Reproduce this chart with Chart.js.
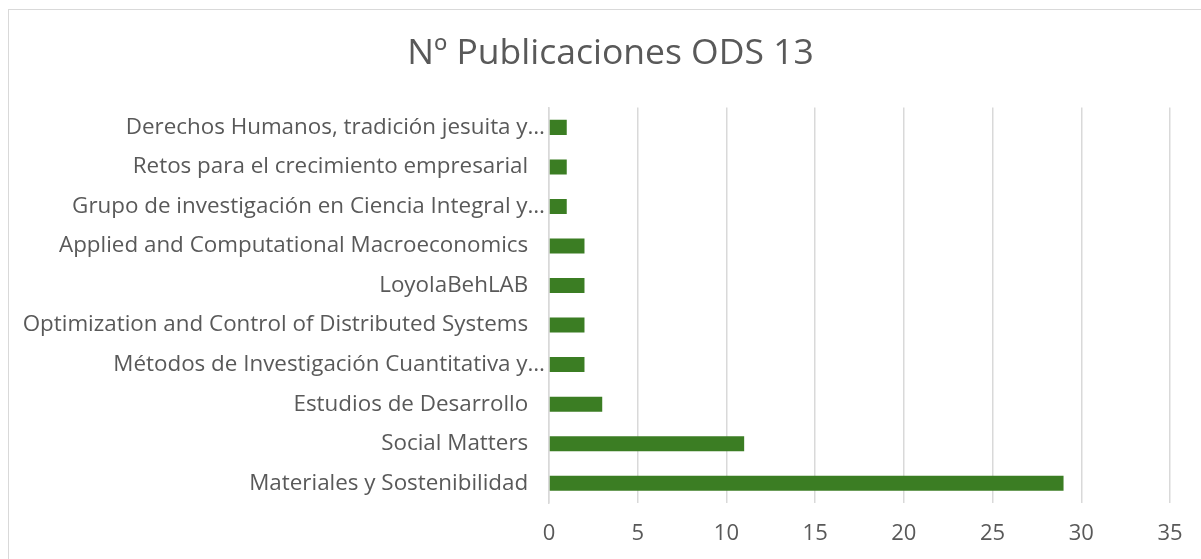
<!DOCTYPE html>
<html>
<head>
<meta charset="utf-8">
<script src="https://cdn.jsdelivr.net/npm/chart.js@4.4.1/dist/chart.umd.min.js"></script>
<style>
  html, body { margin: 0; padding: 0; background: #ffffff; }
  #wrap { position: relative; width: 1201px; height: 559px; overflow: hidden; background: #ffffff; }
  #frame { position: absolute; left: 8px; top: 9px; width: 1230px; height: 600px; border: 1px solid #d9d9d9; box-sizing: border-box; }
  #c { position: absolute; left: 0; top: 0; }
</style>
</head>
<body>
<div id="wrap">
  <div id="frame"></div>
  <canvas id="c" width="1221" height="559"></canvas>
</div>
<script>
const chartTitle = "Nº Publicaciones ODS 13";
const categories = [
  "Derechos Humanos, tradición jesuita y…",
  "Retos para el crecimiento empresarial",
  "Grupo de investigación en Ciencia Integral y…",
  "Applied and Computational Macroeconomics",
  "LoyolaBehLAB",
  "Optimization and Control of Distributed Systems",
  "Métodos de Investigación Cuantitativa y…",
  "Estudios de Desarrollo",
  "Social Matters",
  "Materiales y Sostenibilidad"
];
const publicaciones = [1, 1, 1, 2, 2, 2, 2, 3, 11, 29];
const xTicks = [0, 5, 10, 15, 20, 25, 30, 35];

const FONT = "'Open Sans', 'Liberation Sans', sans-serif";
const TEXT = "#595959";
const GRID = "#d9d9d9";

new Chart(document.getElementById('c'), {
  type: 'bar',
  data: {
    labels: categories,
    datasets: [{
      label: chartTitle,
      data: publicaciones,
      backgroundColor: '#3b7d23',
      borderWidth: 0,
      barPercentage: 0.38,
      categoryPercentage: 1.0
    }]
  },
  options: {
    indexAxis: 'y',
    responsive: false,
    animation: false,
    layout: { padding: { left: 0, right: 0, top: 0, bottom: 0 } },
    plugins: {
      legend: { display: false },
      tooltip: { enabled: false },
      title: {
        display: true,
        text: chartTitle,
        color: TEXT,
        font: { family: FONT, size: 35.5, weight: 'normal' },
        padding: { top: 33, bottom: 32 }
      }
    },
    scales: {
      x: {
        min: xTicks[0],
        max: xTicks[xTicks.length - 1],
        afterBuildTicks: (s) => { s.ticks = xTicks.map(v => ({ value: v })); },
        afterFit: (s) => { s.height = 56; s.paddingRight = 51; },
        grid: { color: GRID, lineWidth: 1.5, drawTicks: false },
        border: { display: false },
        ticks: { color: TEXT, font: { family: FONT, size: 22 }, padding: 18 }
      },
      y: {
        afterFit: (s) => { s.width = 549; },
        grid: { display: false, drawTicks: false },
        border: { display: true, color: GRID, width: 1.5 },
        ticks: {
          color: TEXT,
          font: { family: FONT, size: 22.4 },
          padding: 4,
          callback: function(value) {
            const l = this.getLabelForValue(value);
            return l.endsWith('…') ? l : l + '\u2002\u2005';
          }
        }
      }
    }
  }
});
</script>
</body>
</html>
